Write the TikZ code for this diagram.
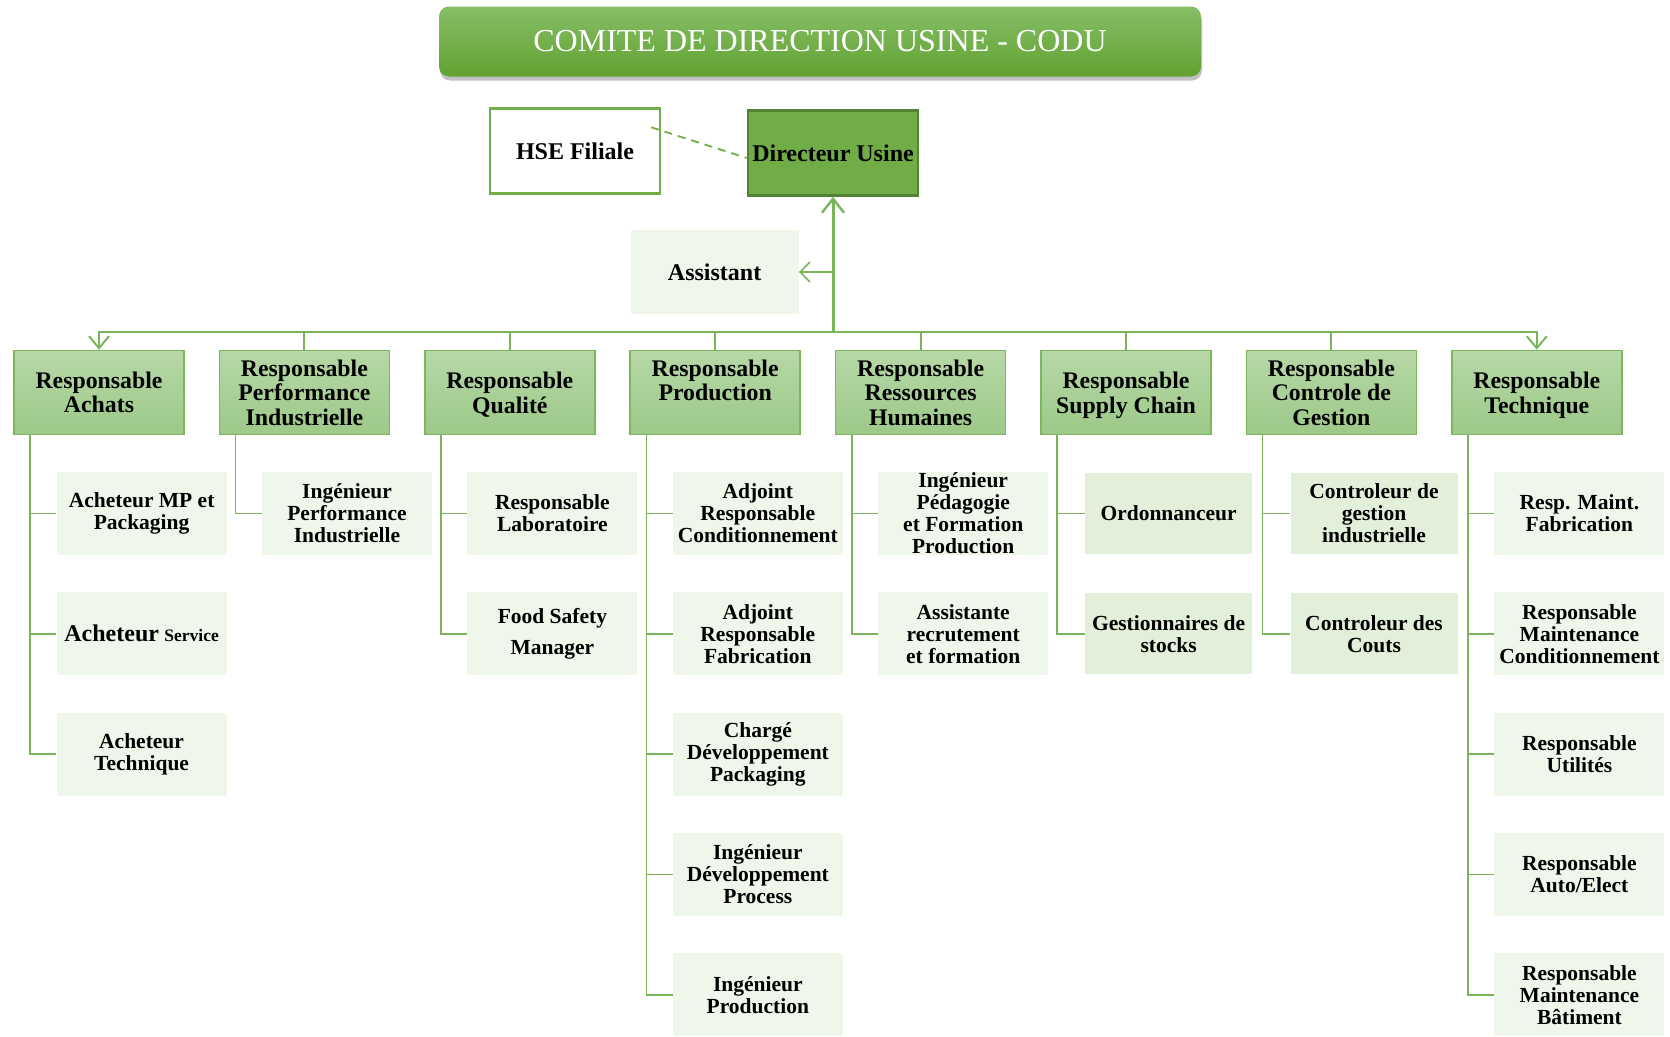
\documentclass[tikz,border=0pt]{standalone}
\usepackage{fontspec}
\setmainfont{Liberation Serif}
\usetikzlibrary{arrows.meta,shadows,calc}

\definecolor{accent}{HTML}{70AD47}
\definecolor{edgegreen}{HTML}{7AB55C}
\definecolor{dirborder}{HTML}{548235}
\definecolor{headtop}{HTML}{B6D8A7}
\definecolor{headbot}{HTML}{9DC988}
\definecolor{headborder}{HTML}{7CB75E}
\definecolor{palegreen}{HTML}{EFF6EA}
\definecolor{midgreen}{HTML}{E2EFD9}
\definecolor{titletop}{HTML}{86BE66}
\definecolor{titlebot}{HTML}{61A232}

% last line of a box without its descender depth
\newcommand{\nodepth}[1]{\raisebox{0pt}[\height][0pt]{#1}}

\begin{document}
\begin{tikzpicture}[x=1pt,y=-1pt,
  titlebox/.style={rounded corners=10pt, top color=titletop, bottom color=titlebot,
    draw=none, minimum width=762pt, minimum height=70pt, inner sep=0pt,
    text=white, font=\fontsize{32}{36}\selectfont,
    drop shadow={shadow xshift=1pt, shadow yshift=-4pt, opacity=0.35, fill=black!70}},
  topbox/.style={minimum width=170pt, minimum height=85pt, inner sep=0pt,
    align=center, font=\fontsize{24}{26}\selectfont\bfseries},
  headbox/.style={draw=headborder, line width=1.6pt, top color=headtop, bottom color=headbot,
    minimum width=170pt, minimum height=84pt, inner sep=0pt, align=center,
    font=\fontsize{23.8}{24.5}\selectfont\bfseries},
  staffbox/.style={fill=palegreen, minimum width=170pt, minimum height=83pt, inner sep=0pt,
    align=center, font=\fontsize{21.5}{22}\selectfont\bfseries},
  staffdark/.style={staffbox, fill=midgreen, minimum width=167pt, minimum height=81pt},
  bus/.style={draw=edgegreen, line width=2pt},
  spine/.style={draw=edgegreen, line width=3pt},
  branch/.style={draw=edgegreen, line width=1.7pt},
  barb/.style={-{Straight Barb[length=12pt,width=20pt,line width=2pt]}}
]
\useasboundingbox (0,0) rectangle (1670,1036);

% ---------- top of the chart ----------
\node[titlebox] (title) at (820,41.5) {COMITE DE DIRECTION USINE - CODU};

\node[topbox, draw=accent, line width=2.4pt, fill=white] (hse) at (575,151) {HSE Filiale};
\node[topbox, draw=dirborder, line width=2.6pt, fill=accent] (dir) at (833,153) {Directeur Usine};
\node[topbox, fill=palegreen, minimum width=168pt, minimum height=84pt] (assist) at (714.6,272) {Assistant};

\draw[accent, line width=1.8pt, dash pattern=on 8pt off 6pt]
  ([xshift=-10pt,yshift=-20pt]hse.north east) -- ([yshift=-5pt]dir.west);

\coordinate (hub) at (833,332);
\draw[spine, -{Straight Barb[length=14pt,width=22pt,line width=2.4pt]}] (hub) -- (dir.south);
\draw[branch, -{Straight Barb[length=10pt,width=20pt,line width=1.6pt]}] (dir.south |- assist.east) -- (assist.east);

% ---------- heads of department ----------
\node[headbox] (achats) at (99,392.5)    {Responsable\\Achats};
\node[headbox] (perf)   at (304.4,392.5) {Responsable\\Performance\\Industrielle};
\node[headbox] (qual)   at (509.8,392.5) {Responsable\\\nodepth{Qualité}};
\node[headbox] (prod)   at (715.2,392.5) {Responsable\\Production\\\phantom{X}};
\node[headbox] (rh)     at (920.6,392.5) {Responsable\\Ressources\\Humaines};
\node[headbox] (supply) at (1126,392.5)  {Responsable\\\nodepth{Supply Chain}};
\node[headbox] (ctrl)   at (1331.4,392.5){Responsable\\Controle de\\Gestion};
\node[headbox] (tech)   at (1536.8,392.5){Responsable\\\nodepth{Technique}};

\draw[bus, barb] (hub) -| (achats.north);
\draw[bus, barb] (hub) -| (tech.north);
\foreach \n in {perf,qual,prod,rh,supply,ctrl}
  \draw[bus] (\n.north) -- (\n.north |- hub);

% ---------- staff ----------
% Achats
\node[staffbox] (a1) at (141.6,513.5) {Acheteur MP et\\Packaging};
\node[staffbox] (a2) at (141.6,633.8) {{\fontsize{24}{24}\selectfont Acheteur} {\fontsize{17.5}{18}\selectfont Service}};
\node[staffbox] (a3) at (141.6,754.1) {Acheteur\\Technique};
% Performance
\node[staffbox] (p1) at (347,513.5) {Ingénieur\\Performance\\Industrielle};
% Qualite
\node[staffbox] (q1) at (552.4,513.5) {Responsable\\Laboratoire};
\node[staffbox] (q2) at (552.4,633.8) {Food Safety\\[9pt]Manager};
% Production
\node[staffbox] (r1) at (757.8,513.5) {Adjoint\\Responsable\\Conditionnement};
\node[staffbox] (r2) at (757.8,633.8) {Adjoint\\Responsable\\Fabrication};
\node[staffbox] (r3) at (757.8,754.1) {Chargé\\Développement\\Packaging};
\node[staffbox] (r4) at (757.8,874.4) {Ingénieur\\Développement\\Process};
\node[staffbox] (r5) at (757.8,994.7) {Ingénieur\\Production};
% Ressources humaines
\node[staffbox] (h1) at (963.2,513.5) {Ingénieur\\Pédagogie\\et Formation\\Production};
\node[staffbox] (h2) at (963.2,633.8) {Assistante\\recrutement\\et formation};
% Supply chain
\node[staffdark] (s1) at (1168.6,513.5) {Ordonnanceur};
\node[staffdark] (s2) at (1168.6,633.8) {Gestionnaires de\\stocks};
% Controle de gestion
\node[staffdark] (c1) at (1374,513.5) {Controleur de\\gestion\\industrielle};
\node[staffdark] (c2) at (1374,633.8) {Controleur des\\Couts};
% Technique
\node[staffbox] (t1) at (1579.4,513.5) {Resp. Maint.\\Fabrication};
\node[staffbox] (t2) at (1579.4,633.8) {Responsable\\Maintenance\\Conditionnement};
\node[staffbox] (t3) at (1579.4,754.1) {Responsable\\Utilités};
\node[staffbox] (t4) at (1579.4,874.4) {Responsable\\Auto/Elect};
\node[staffbox] (t5) at (1579.4,994.7) {Responsable\\Maintenance\\Bâtiment};

% ---------- branch lines ----------
\foreach \boss/\kids in {achats/{a1,a2,a3}, perf/{p1}, qual/{q1,q2},
    prod/{r1,r2,r3,r4,r5}, rh/{h1,h2}, supply/{s1,s2}, ctrl/{c1,c2},
    tech/{t1,t2,t3,t4,t5}}
  \foreach \k in \kids
    \draw[branch] ([xshift=17pt]\boss.south west) |- (\k.west);

\end{tikzpicture}
\end{document}
